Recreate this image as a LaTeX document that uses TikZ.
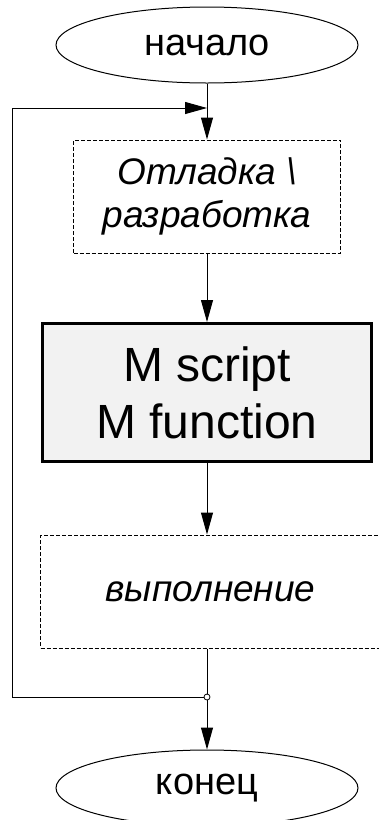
\documentclass[tikz,border=0pt]{standalone}
\usepackage{fontspec}
\setmainfont{Liberation Sans}
\usetikzlibrary{arrows.meta,shapes.geometric}
\begin{document}
\begin{tikzpicture}[x=1pt, y=-1pt, line width=1pt,
    >={Triangle[length=22pt,width=12pt]}]
    \useasboundingbox (0,0) rectangle (379,820);
    \tikzset{
        term/.style={draw, ellipse, inner sep=0pt,
            minimum width=302pt, minimum height=76pt,
            font=\fontsize{38}{44}\selectfont},
        plan/.style={draw, dash pattern=on 4pt off 2pt, inner sep=0pt,
            align=center, font=\fontsize{37}{43}\selectfont\itshape},
        mcode/.style={draw, line width=3pt, fill=gray!10, inner sep=0pt,
            align=center, font=\fontsize{48}{57}\selectfont}
    }

    \node[term] (start) at (207,45) {начало};
    \node[plan, minimum width=267pt, minimum height=113pt]
        (debug) at (207,196.5) {Отладка \textbackslash\\разработка};
    \node[mcode, minimum width=329pt, minimum height=138pt]
        (mfile) at (207,392.5) {M script\\M function};
    \node[plan, minimum width=340pt, minimum height=113pt]
        (run) at (210.5,591.5) {выполнение};
    \node[term] (stop) at (207,788) {конец};

    \node[draw, circle, fill=white, inner sep=0pt, minimum size=6pt,
        line width=0.8pt] (join) at (207,697) {};
    \coordinate (loopin) at (207,108);
    \coordinate (lowcorner) at (12,697);
    \coordinate (upcorner) at (12,108);

    \draw[->] (start) -- (debug);
    \draw[->] (debug) -- (mfile);
    \draw[->] (mfile.south) -- (mfile.south |- run.north);
    \draw (run.south -| join) -- (join);
    \draw[->] (join) -- (stop);
    \draw[->] (join) -- (lowcorner) -- (upcorner) -- (loopin);
\end{tikzpicture}
\end{document}
